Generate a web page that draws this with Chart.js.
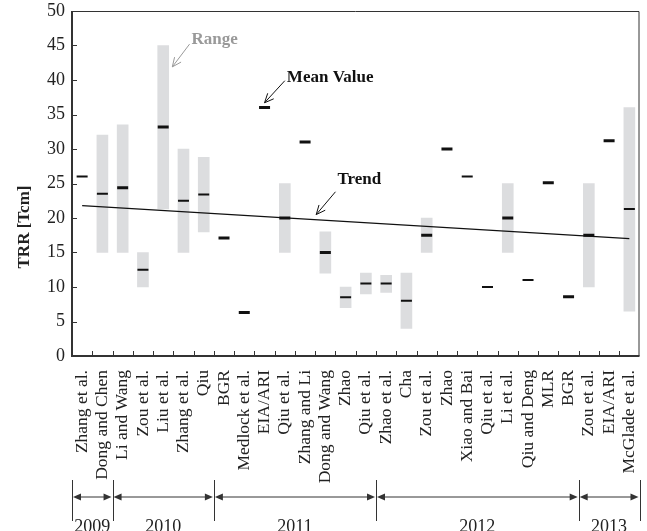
<!DOCTYPE html>
<html>
<head>
<meta charset="utf-8">
<script src="https://cdn.jsdelivr.net/npm/chart.js@4.4.0/dist/chart.umd.min.js"></script>
<style>
  html, body { margin: 0; padding: 0; background: #fff; }
  #wrap { width: 647px; height: 531px; }
</style>
</head>
<body>
<div id="wrap"><canvas id="trrChart"></canvas></div>
<script>
// --- data ---
const studies = [
    'Zhang et al.', 'Dong and Chen', 'Li and Wang', 'Zou et al.', 'Liu et al.', 'Zhang et al.', 'Qiu',
    'BGR', 'Medlock et al.', 'EIA/ARI', 'Qiu et al.', 'Zhang and Li', 'Dong and Wang', 'Zhao', 'Qiu et al.',
    'Zhao et al.', 'Cha', 'Zou et al.', 'Zhao', 'Xiao and Bai', 'Qiu et al.', 'Li et al.', 'Qiu and Deng', 'MLR', 'BGR',
    'Zou et al.', 'EIA/ARI', 'McGlade et al.'
];
const rangeLow = [null, 15, 15, 10, 21.3, 15, 18, null, null, null, 15, null, 12, 7, 9, 9.2, 4, 15,
    null, null, null, 15, null, null, null, 10, null, 6.5];
const rangeHigh = [null, 32, 33.5, 15, 45, 30, 28.8, null, null, null, 25, null, 18, 10, 12, 11.7, 12, 20,
    null, null, null, 25, null, null, null, 25, null, 36];
const meanValues = [26, 23.5, 24.4, 12.5, 33.2, 22.5, 23.4, 17.1, 6.3, 36, 20, 31, 15, 8.5, 10.5,
    10.5, 8, 17.5, 30, 26, 10, 20, 11, 25.1, 8.6, 17.5, 31.2, 21.3];
const trendStart = 21.8;
const trendEnd = 17.0;
const years = ['2009', '2010', '2011', '2012', '2013'];
const studiesPerYear = [2, 5, 8, 10, 3];

// some mean marks are drawn heavier than others
const meanMarkWeight = [2, 2, 3, 2, 3, 2, 2, 3, 3, 3, 3, 3, 3, 2, 2, 2, 2, 3, 3, 2, 2, 3, 2, 3, 3, 3, 3, 2];

const SERIF = '"Liberation Serif", "Times New Roman", serif';
const INK = '#222';

const ranges = studies.map((_, i) => rangeLow[i] === null ? null : [rangeLow[i], rangeHigh[i]]);
const trend = studies.map((_, i) => i === 0 ? trendStart : (i === studies.length - 1 ? trendEnd : null));

function arrow(ctx, x1, y1, x2, y2, color) {
    const a = Math.atan2(y2 - y1, x2 - x1);
    const h = 10, spread = 0.42;
    ctx.save();
    ctx.strokeStyle = color;
    ctx.lineWidth = 1;
    ctx.beginPath();
    ctx.moveTo(x1, y1);
    ctx.lineTo(x2, y2);
    ctx.moveTo(x2 - h * Math.cos(a - spread), y2 - h * Math.sin(a - spread));
    ctx.lineTo(x2, y2);
    ctx.lineTo(x2 - h * Math.cos(a + spread), y2 - h * Math.sin(a + spread));
    ctx.stroke();
    ctx.restore();
}

function solidHead(ctx, x, y, dir) {
    ctx.beginPath();
    ctx.moveTo(x, y);
    ctx.lineTo(x - dir * 8, y - 3.5);
    ctx.lineTo(x - dir * 8, y + 3.5);
    ctx.closePath();
    ctx.fill();
}

// frame, inward ticks, year timeline and the callouts
const decorations = {
    id: 'decorations',
    afterDraw(chart) {
        const ctx = chart.ctx;
        const area = chart.chartArea;
        const xs = chart.scales.x;
        const ys = chart.scales.y;
        const edge = b => xs.getPixelForValue(b - 0.5);

        ctx.save();
        ctx.strokeStyle = '#333';
        // top / right
        ctx.lineWidth = 1;
        ctx.beginPath();
        ctx.moveTo(area.left, area.top + 0.5);
        ctx.lineTo(area.right - 0.5, area.top + 0.5);
        ctx.lineTo(area.right - 0.5, area.bottom);
        ctx.stroke();
        // left / bottom heavier
        ctx.lineWidth = 2;
        ctx.beginPath();
        ctx.moveTo(area.left, area.top);
        ctx.lineTo(area.left, area.bottom);
        ctx.lineTo(area.right, area.bottom);
        ctx.stroke();

        ctx.lineWidth = 1;
        ctx.beginPath();
        for (let b = 1; b < studies.length; b++) {
            const x = Math.round(edge(b)) + 0.5;
            ctx.moveTo(x, area.bottom);
            ctx.lineTo(x, area.bottom - 5);
        }
        ys.ticks.forEach(t => {
            const y = Math.round(ys.getPixelForValue(t.value)) + 0.5;
            ctx.moveTo(area.left, y);
            ctx.lineTo(area.left + 5, y);
        });
        ctx.stroke();

        // year timeline under the labels
        const sepTop = area.bottom + 124, sepBot = area.bottom + 165, lineY = area.bottom + 141;
        const bounds = [0];
        studiesPerYear.forEach(n => bounds.push(bounds[bounds.length - 1] + n));
        ctx.fillStyle = '#333';
        ctx.beginPath();
        bounds.forEach(b => {
            const x = Math.round(edge(b)) + 0.5;
            ctx.moveTo(x, sepTop);
            ctx.lineTo(x, sepBot);
        });
        ctx.stroke();
        ctx.font = '18px ' + SERIF;
        ctx.textAlign = 'center';
        ctx.textBaseline = 'alphabetic';
        years.forEach((yr, i) => {
            const x0 = edge(bounds[i]) + 1, x1 = edge(bounds[i + 1]) - 1;
            ctx.beginPath();
            ctx.moveTo(x0 + 4, lineY);
            ctx.lineTo(x1 - 4, lineY);
            ctx.stroke();
            solidHead(ctx, x0, lineY, -1);
            solidHead(ctx, x1, lineY, 1);
            ctx.fillStyle = INK;
            ctx.fillText(yr, (x0 + x1) / 2, area.bottom + 176);
            ctx.fillStyle = '#333';
        });

        // axis title
        ctx.save();
        ctx.translate(area.left - 47, area.top + 216);
        ctx.rotate(-Math.PI / 2);
        ctx.font = 'bold 17px ' + SERIF;
        ctx.fillStyle = INK;
        ctx.textAlign = 'center';
        ctx.textBaseline = 'middle';
        ctx.fillText('TRR [Tcm]', 0, 0);
        ctx.restore();

        // callouts, placed in data units
        const px = (i, v) => [xs.getPixelForValue(i), ys.getPixelForValue(v)];
        ctx.font = 'bold 17px ' + SERIF;
        ctx.textAlign = 'left';
        ctx.textBaseline = 'middle';

        let p = px(5.4, 45.9);
        ctx.fillStyle = '#999';
        ctx.fillText('Range', p[0], p[1]);
        arrow(ctx, ...px(5.3, 45.2), ...px(4.45, 41.9), '#999');

        p = px(10.1, 40.4);
        ctx.fillStyle = '#111';
        ctx.fillText('Mean Value', p[0], p[1]);
        arrow(ctx, ...px(10.0, 39.9), ...px(9.0, 36.7), '#111');

        p = px(12.6, 25.5);
        ctx.fillText('Trend', p[0], p[1]);
        arrow(ctx, ...px(12.5, 23.8), ...px(11.55, 20.5), '#111');

        ctx.restore();
    }
};

new Chart(document.getElementById('trrChart'), {
    type: 'bar',
    data: {
        labels: studies,
        datasets: [
            {
                type: 'line',
                label: 'Trend',
                data: trend,
                borderColor: '#111',
                borderWidth: 1.3,
                pointRadius: 0,
                spanGaps: true,
                order: 1
            },
            {
                type: 'line',
                label: 'Mean Value',
                data: meanValues,
                showLine: false,
                pointStyle: 'line',
                pointRadius: 5.5,
                pointBorderWidth: ctx => meanMarkWeight[ctx.dataIndex],
                pointBorderColor: '#111',
                order: 0
            },
            {
                label: 'Range',
                data: ranges,
                backgroundColor: '#dcdddf',
                borderWidth: 0,
                barThickness: 11,
                order: 2
            }
        ]
    },
    options: {
        responsive: true,
        maintainAspectRatio: false,
        animation: false,
        layout: { padding: { top: 11, right: 4, left: 0, bottom: 0 } },
        plugins: {
            legend: { display: false },
            tooltip: { enabled: false }
        },
        scales: {
            x: {
                offset: true,
                grid: { display: false, drawTicks: false },
                border: { display: false },
                ticks: {
                    autoSkip: false,
                    minRotation: 90,
                    maxRotation: 90,
                    padding: 14,
                    color: INK,
                    font: { family: SERIF, size: 17.5 }
                },
                afterFit: s => { s.height = 175; s.paddingLeft = 0; s.paddingRight = 0; }
            },
            y: {
                min: 0,
                max: 50,
                grid: { display: false, drawTicks: false },
                border: { display: false },
                ticks: {
                    stepSize: 5,
                    padding: 7,
                    color: INK,
                    font: { family: SERIF, size: 18 }
                },
                afterFit: s => { s.width = 72; s.paddingTop = 0; s.paddingBottom = 0; }
            }
        }
    },
    plugins: [decorations]
});
</script>
</body>
</html>
